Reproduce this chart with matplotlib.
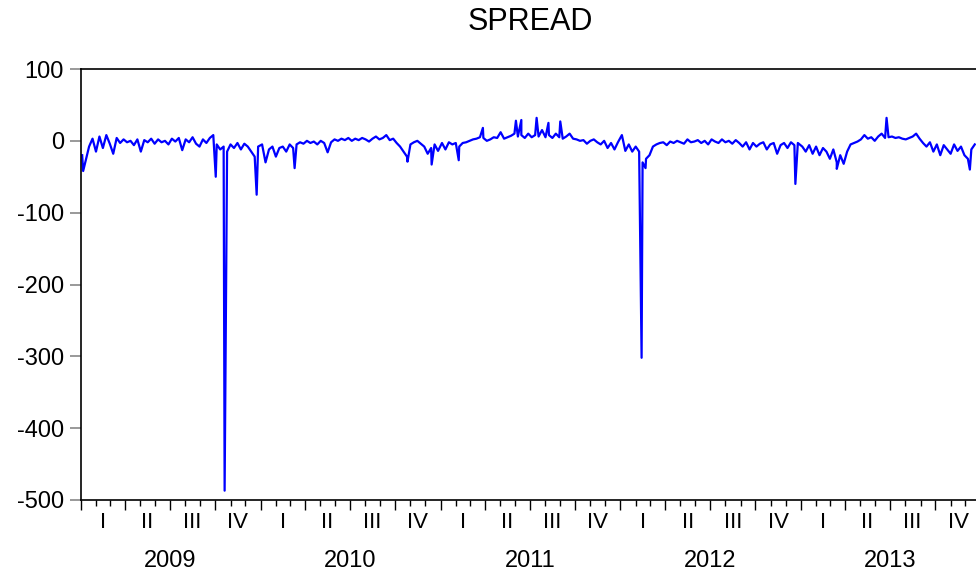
import matplotlib
matplotlib.use("Agg")
import matplotlib.pyplot as plt
import matplotlib.dates as mdates
import pandas as pd
import datetime as dt

plt.rcParams['font.family'] = ['Liberation Sans', 'DejaVu Sans']
plt.rcParams['axes.unicode_minus'] = False

# Weekly base values of SPREAD, per year
spread_2009 = [-20, -28, -8, 3, -15, 6, -10, 8, -4, -18, 4, -3, 2, -2, 0, -6, 2, -15, 1, -2,
               3, -4, 2, -2, 0, -5, 3, -1, 4, -13, 2, -2, 5, -4, -8, 2, -3, 4, 8, -5,
               -12, -8, -15, -5, -10, -3, -12, -4, -8, -15, -22, -8]
spread_2010 = [-5, -30, -12, -8, -22, -10, -8, -15, -5, -10, -5, -2, -4, 0, -3, -1, -5, 0, -3, -16,
               -2, 2, 0, 3, 1, 4, 0, 3, 1, 4, 2, -1, 3, 6, 2, 4, 8, 1, 3, -3,
               -8, -15, -22, -5, -2, 0, -4, -8, -18, -10, -5, -14]
spread_2011 = [-3, -12, -2, -5, -3, -8, -3, -2, 0, 2, 3, 5, 4, 0, 2, 5, 4, 12, 3, 5,
               7, 10, 6, 8, 4, 10, 5, 8, 6, 15, 5, 8, 4, 10, 5, 3, 6, 10, 3, 2,
               0, 1, -4, 0, 2, -2, -5, 0, -10, -3, -12, -2]
spread_2012 = [8, -14, -5, -15, -8, -15, -30, -25, -20, -8, -5, -3, -2, -6, -1, -3, 0, -2, -4, 2,
               -2, -1, 1, -3, 0, -5, 2, -1, -3, 2, -2, 0, -4, 1, -3, -8, -2, -12, -3, -8,
               -4, -2, -12, -5, -3, -18, -6, -3, -10, -2, -6, -3]
spread_2013 = [-8, -15, -6, -18, -8, -20, -10, -15, -25, -12, -30, -20, -32, -15, -5, -3, -1, 2, 8, 3,
               5, 0, 6, 10, 4, 5, 6, 4, 5, 3, 2, 4, 6, 10, 3, -3, -8, -2, -15, -5,
               -20, -6, -12, -18, -5, -14, -8, -20, -25, -12, -5]

# Isolated daily spikes
spike_dates = ['2009-01-06', '2009-10-02', '2009-10-20', '2009-12-24', '2010-03-11',
               '2010-10-26', '2010-12-14', '2011-02-07', '2011-03-28', '2011-06-03',
               '2011-06-14', '2011-07-15', '2011-08-08', '2011-09-01', '2012-02-13',
               '2012-02-21', '2012-12-21', '2013-03-15', '2013-06-24', '2013-12-10']
spike_values = [-42, -50, -487, -75, -38, -29, -33, -27, 18, 28,
                29, 32, 25, 27, -302, -38, -60, -39, 32, -40]

quarter_labels = ['I', 'II', 'III', 'IV']
years = [2009, 2010, 2011, 2012, 2013]
yticks = [100, 0, -100, -200, -300, -400, -500]

series = []
for yr, vals in zip(years, [spread_2009, spread_2010, spread_2011, spread_2012, spread_2013]):
    d = pd.date_range(f'{yr}-01-04', periods=len(vals), freq='7D')
    series.append(pd.Series(vals, index=d))
series.append(pd.Series(spike_values, index=pd.to_datetime(spike_dates)))
s = pd.concat(series).sort_index()

fig = plt.figure(figsize=(9.76, 5.73), dpi=100)
ax = fig.add_axes([80.7 / 976, 1 - 500 / 573, 900 / 976, 431 / 573])
ax.plot(s.index, s.values, color='#0000ff', lw=1.6)

ax.set_xlim(dt.date(2009, 1, 1), dt.date(2014, 1, 1))
ax.set_ylim(-500, 100)
ax.set_yticks(yticks)
ax.set_yticklabels([str(v) for v in yticks], fontsize=17)
ax.tick_params(axis='y', length=8, width=1.2, color='#888888', pad=4)

ax.xaxis.set_major_locator(mdates.MonthLocator(bymonth=[1, 4, 7, 10]))
ax.xaxis.set_minor_locator(mdates.MonthLocator())
ax.xaxis.set_major_formatter(plt.NullFormatter())
ax.tick_params(axis='x', which='major', length=7, width=1.0, color='black')
ax.tick_params(axis='x', which='minor', length=4, width=1.0, color='black')

for sp in ['left', 'bottom', 'top', 'right']:
    ax.spines[sp].set_linewidth(1.2)
    ax.spines[sp].set_color('black')

trans = ax.get_xaxis_transform()
for yr in years:
    for qi, ql in enumerate(quarter_labels):
        start = dt.date(yr, 1 + 3 * qi, 1)
        end = dt.date(yr + (1 if qi == 3 else 0), 1 if qi == 3 else 4 + 3 * qi, 1)
        mid = mdates.date2num(start) + (mdates.date2num(end) - mdates.date2num(start)) / 2
        ax.text(mid, -23 / 431, ql, transform=trans, ha='center', va='center', fontsize=16)
    ymid = mdates.date2num(dt.date(yr, 7, 2))
    ax.text(ymid, -61 / 431, str(yr), transform=trans, ha='center', va='center', fontsize=17)

fig.text((80.7 + 980.7) / 2 / 976, 1 - 22 / 573, 'SPREAD', ha='center', va='center', fontsize=22)

fig.savefig('out.png', dpi=100)
